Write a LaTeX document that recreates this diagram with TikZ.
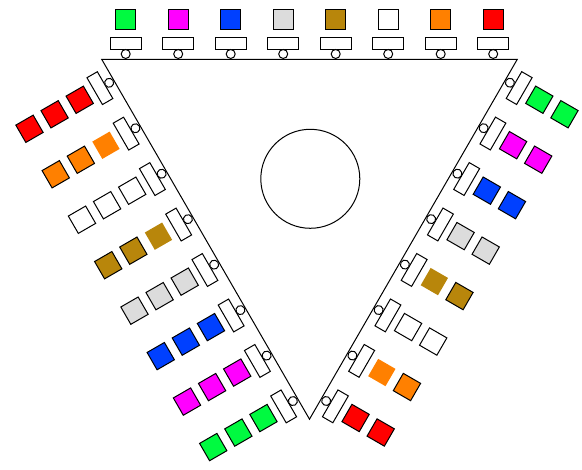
\documentclass[tikz,border=0pt]{standalone}
\usepackage{tikz}

\definecolor{cgreen}{RGB}{0,250,64}
\definecolor{cmagenta}{RGB}{255,0,255}
\definecolor{cblue}{RGB}{0,64,255}
\definecolor{cgray}{RGB}{220,220,220}
\definecolor{cgold}{RGB}{184,134,11}
\definecolor{corange}{RGB}{255,128,0}
\definecolor{cred}{RGB}{255,0,0}

\tikzset{
  belt/.style={line width=1pt},
  wheel/.style={draw,fill=white,line width=1pt},
  carrier/.style={draw,fill=white,line width=1pt},
  part/.style={draw,line width=1pt}
}

\begin{document}
\begin{tikzpicture}[x=1pt,y=1pt]
            \useasboundingbox (0,0) rectangle (582,470);
            \coordinate (TL) at (101.7,410.7);
            \coordinate (TR) at (517.3,410.7);
            \coordinate (B) at (309.5,50.8);
            \draw [belt] (TL) -- (TR) -- (B) -- cycle;
            \node [draw,circle,line width=1pt,inner sep=0pt,minimum size=99pt] (hub) at (310.3,291.2) {};
            \foreach \corner/\angle/\num in {TL/0/1,TR/-120/2,B/120/3} {
              \begin{scope}[shift={(\corner)},rotate=\angle]
                \foreach \col [count=\i from 0] in {cgreen,cmagenta,cblue,cgray,cgold,white,corange,cred} {
                  \pgfmathsetmacro{\u}{24+52.5*\i}
                  \draw [carrier] ({\u-15.5},10) rectangle ({\u+15.5},22);
                  \draw [wheel] (\u,5.3) circle [radius=4.5];
                  \foreach \k in {1,...,\num} {
                    \pgfmathsetmacro{\v}{39.3+29*(\k-1)}
                    \pgfmathtruncatemacro{\bare}{(\num>1)&&(\k==1)&&((\i==4)||(\i==6))}
                    \ifnum\bare=1
                      \fill [\col] ({\u-10},{\v-10}) rectangle ({\u+10},{\v+10});
                    \else
                      \draw [part,fill=\col] ({\u-10},{\v-10}) rectangle ({\u+10},{\v+10});
                    \fi
                  }
                }
              \end{scope}
            }
        \end{tikzpicture}
\end{document}
